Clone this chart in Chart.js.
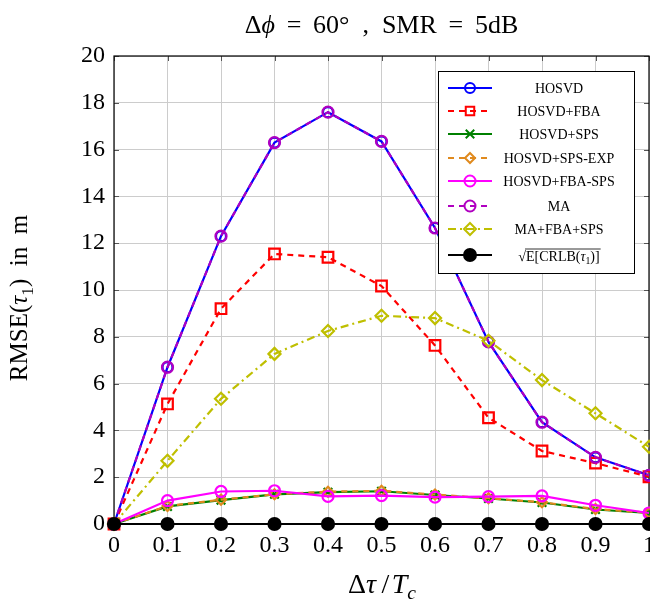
<!DOCTYPE html>
<html><head><meta charset="utf-8">
<script src="https://cdn.jsdelivr.net/npm/chart.js@4.4.1/dist/chart.umd.min.js"></script>
<style>html,body{margin:0;padding:0;overflow:hidden;background:#fff}#wrap{width:662px;height:604px}</style>
</head><body><div id="wrap"><canvas id="c" width="662" height="604"></canvas></div>
<script>
// ---- data ----
const xLabels = ['0','0.1','0.2','0.3','0.4','0.5','0.6','0.7','0.8','0.9','1'];
const yMin = 0, yMax = 20, yStep = 2;
const seriesNames = ['HOSVD','HOSVD+FBA','HOSVD+SPS','HOSVD+SPS-EXP','HOSVD+FBA-SPS','MA','MA+FBA+SPS','CRLB'];
const hosvd      = [0, 6.7, 12.3, 16.3, 17.6, 16.35, 12.65, 7.78, 4.35, 2.85, 2.08];
const hosvdFba   = [0, 5.13, 9.2, 11.54, 11.4, 10.17, 7.63, 4.54, 3.12, 2.6, 2.02];
const hosvdSps   = [0, 0.75, 1.02, 1.27, 1.36, 1.4, 1.24, 1.09, 0.92, 0.62, 0.47];
const hosvdSpsExp= [0, 0.77, 1.04, 1.27, 1.38, 1.42, 1.26, 1.1, 0.93, 0.64, 0.48];
const hosvdFbaSps= [0, 1.0, 1.39, 1.42, 1.18, 1.21, 1.15, 1.17, 1.2, 0.8, 0.47];
const ma         = [0, 6.7, 12.3, 16.3, 17.6, 16.35, 12.65, 7.78, 4.35, 2.85, 2.08];
const maFbaSps   = [0, 2.7, 5.35, 7.27, 8.25, 8.9, 8.8, 7.83, 6.15, 4.73, 3.3];
const crlb       = [0, 0, 0, 0, 0, 0, 0, 0, 0, 0, 0];

const SERIF = "'Liberation Serif','Times New Roman',serif";
const NONE = 'rgba(0,0,0,0)';

const styles = [
  {c:'#0000ff', dash:[], ps:'circle', r:5, fill:NONE},
  {c:'#ff0000', dash:[6,5], ps:'rect', r:7.5, fill:NONE},
  {c:'#008000', dash:[], ps:'crossRot', r:6, fill:NONE},
  {c:'#e08a1e', dash:[6,5], ps:'rectRot', r:5, fill:NONE},
  {c:'#ff00ff', dash:[], ps:'circle', r:5.5, fill:NONE},
  {c:'#b000c0', dash:[6,5], ps:'circle', r:5.5, fill:NONE},
  {c:'#bfbf00', dash:[8,4,2,4], ps:'rectRot', r:6, fill:NONE},
  {c:'#000000', dash:[], ps:'circle', r:6, fill:'#000000'}
];
const seriesData = [hosvd, hosvdFba, hosvdSps, hosvdSpsExp, hosvdFbaSps, ma, maFbaSps, crlb];

const datasets = seriesData.map((d,i)=>({
  label: seriesNames[i], data: d,
  borderColor: styles[i].c, borderWidth: 2.2, borderDash: styles[i].dash,
  pointStyle: styles[i].ps, pointRadius: styles[i].r,
  pointBorderColor: styles[i].c, pointBackgroundColor: styles[i].fill,
  pointBorderWidth: 2.2, tension: 0, clip: false, fill: false,
  order: seriesData.length - i
}));

function drawRuns(ctx, runs, cx, baseline, size) {
  const parts = runs.map(r => {
    const s = r.sub ? size*0.7 : size;
    const f = (r.it ? 'italic ' : '') + s + 'px ' + SERIF;
    ctx.font = f;
    return {t:r.t, f, w: ctx.measureText(r.t).width, dy: r.sub ? size*0.22 : 0};
  });
  const total = parts.reduce((a,p)=>a+p.w,0);
  let x = cx - total/2;
  ctx.textAlign = 'left'; ctx.textBaseline = 'alphabetic';
  parts.forEach(p => { ctx.font = p.f; ctx.fillText(p.t, x, baseline + p.dy); x += p.w; });
  return {left: cx - total/2, right: cx + total/2, parts};
}

function drawMarker(ctx, st, x, y) {
  ctx.save();
  ctx.setLineDash([]);
  ctx.lineWidth = 2; ctx.strokeStyle = st.c; ctx.fillStyle = st.fill;
  const r = Math.min(st.r, 6);
  ctx.beginPath();
  if (st.ps === 'circle') { ctx.arc(x, y, r, 0, Math.PI*2); }
  else if (st.ps === 'rect') { const s = r*Math.SQRT1_2; ctx.rect(x-s, y-s, 2*s, 2*s); }
  else if (st.ps === 'rectRot') { ctx.moveTo(x, y-r); ctx.lineTo(x+r, y); ctx.lineTo(x, y+r); ctx.lineTo(x-r, y); ctx.closePath(); }
  else if (st.ps === 'crossRot') { const s = r*Math.SQRT1_2; ctx.moveTo(x-s,y-s); ctx.lineTo(x+s,y+s); ctx.moveTo(x+s,y-s); ctx.lineTo(x-s,y+s); }
  ctx.fill(); ctx.stroke();
  ctx.restore();
}

const decor = {
  id: 'decor',
  beforeDatasetsDraw(chart) {
    const {ctx, chartArea:a, scales:{x, y}} = chart;
    ctx.save();
    ctx.strokeStyle = '#555'; ctx.lineWidth = 1;
    ctx.beginPath();
    x.ticks.forEach((t,i)=>{ const px = Math.round(x.getPixelForTick(i))+0.5;
      ctx.moveTo(px, a.bottom); ctx.lineTo(px, a.bottom-5);
      ctx.moveTo(px, a.top); ctx.lineTo(px, a.top+5); });
    y.ticks.forEach((t,i)=>{ const py = Math.round(y.getPixelForTick(i))+0.5;
      ctx.moveTo(a.left, py); ctx.lineTo(a.left+5, py);
      ctx.moveTo(a.right, py); ctx.lineTo(a.right-5, py); });
    ctx.stroke();
    ctx.strokeStyle = '#000'; ctx.lineWidth = 1.2;
    ctx.strokeRect(a.left, a.top, a.right-a.left, a.bottom-a.top);
    ctx.restore();
  },
  afterDraw(chart) {
    const {ctx, chartArea:a} = chart;
    ctx.save();
    ctx.fillStyle = '#000';
    // chart title
    drawRuns(ctx, [{t:'Δ'},{t:'ϕ',it:true},{t:' \u2009=\u2009 60°  ,  SMR \u2009=\u2009 5dB'}], 381.5, 33, 26);
    // x title
    drawRuns(ctx, [{t:'Δ'},{t:'τ',it:true},{t:'\u2009/\u200A'},{t:'T',it:true},{t:'c',it:true,sub:true}], 382, 593, 28);
    // y title
    ctx.save();
    ctx.translate(27, (a.top+a.bottom)/2 + 8);
    ctx.rotate(-Math.PI/2);
    drawRuns(ctx, [{t:'RMSE('},{t:'τ',it:true},{t:'1',sub:true},{t:')  in  m'}], 0, 0, 25);
    ctx.restore();
    // legend
    const lw = 196, lh = 202;
    const lx = a.right - 15 - lw, ly = a.top + 15;
    ctx.fillStyle = '#fff';
    ctx.fillRect(lx, ly, lw, lh);
    ctx.strokeStyle = '#000'; ctx.lineWidth = 1;
    ctx.strokeRect(lx+0.5, ly+0.5, lw, lh);
    const rowY = [17, 40, 63, 87, 110, 135, 158, 184];
    styles.forEach((st,i)=>{
      const yy = ly + rowY[i];
      ctx.save();
      ctx.strokeStyle = st.c; ctx.lineWidth = 2.2; ctx.setLineDash(st.dash);
      ctx.beginPath(); ctx.moveTo(lx+10, yy); ctx.lineTo(lx+54, yy); ctx.stroke();
      ctx.restore();
      drawMarker(ctx, st, lx+32, yy);
      ctx.fillStyle = '#000';
      const cx = lx + 121, base = yy + 5;
      if (i < 7) {
        drawRuns(ctx, [{t:seriesNames[i]}], cx, base, 14);
      } else {
        const res = drawRuns(ctx, [{t:'√'},{t:'E[CRLB('},{t:'τ',it:true},{t:'1',sub:true},{t:')]'}], cx, base+1, 14);
        const startX = res.left + res.parts[0].w;
        ctx.strokeStyle = '#000'; ctx.lineWidth = 0.8; ctx.setLineDash([]);
        ctx.beginPath(); ctx.moveTo(startX-1, base-11); ctx.lineTo(res.right+1, base-11); ctx.stroke();
      }
    });
    ctx.restore();
  }
};

new Chart(document.getElementById('c'), {
  type: 'line',
  data: { labels: xLabels, datasets },
  options: {
    responsive: false, animation: false,
    layout: { padding: { top: 56, left: 0, right: 0, bottom: 0 } },
    plugins: { legend: { display: false }, tooltip: { enabled: false }, title: { display: false } },
    scales: {
      x: {
        type: 'category', offset: false,
        grid: { color: '#cccccc', lineWidth: 1, drawTicks: false },
        border: { display: false },
        ticks: { color: '#000', font: { family: SERIF, size: 24 }, padding: 7, maxRotation: 0, autoSkip: false },
        afterFit(s) { s.height = 80; }
      },
      y: {
        min: yMin, max: yMax,
        grid: { color: '#cccccc', lineWidth: 1, drawTicks: false },
        border: { display: false },
        ticks: { stepSize: yStep, color: '#000', font: { family: SERIF, size: 24 }, padding: 9 },
        afterFit(s) { s.width = 114; }
      }
    }
  },
  plugins: [decor]
});
</script></body></html>
